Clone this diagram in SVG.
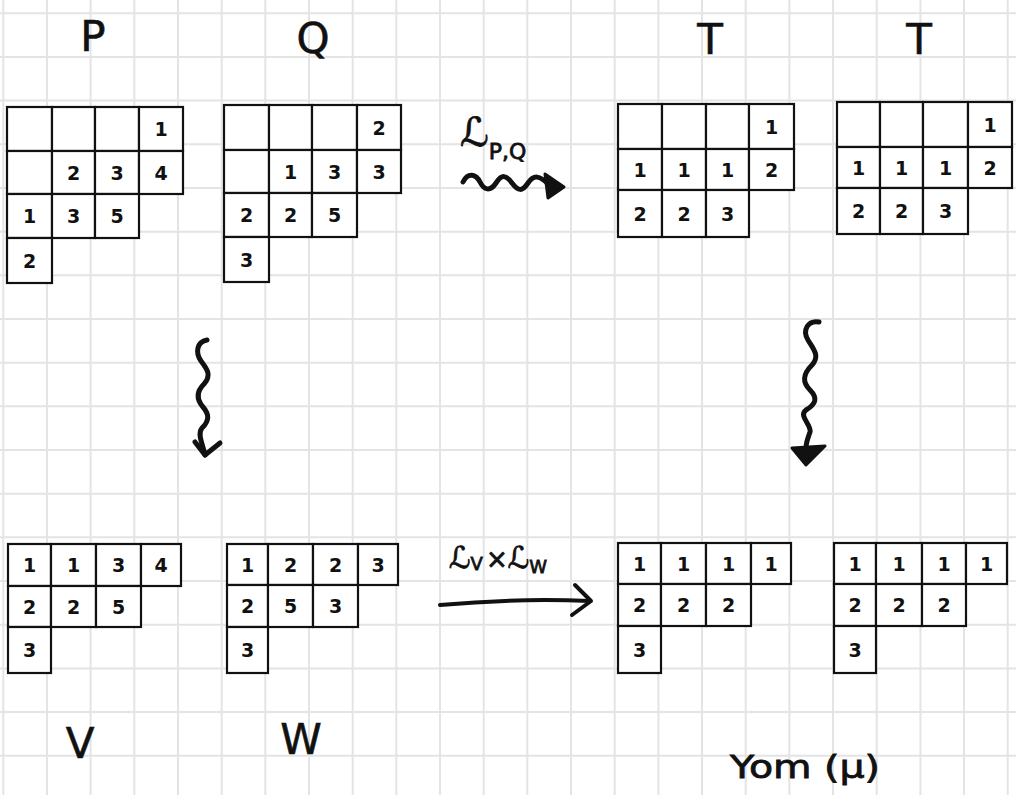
<svg xmlns="http://www.w3.org/2000/svg" width="1016" height="795" viewBox="0 0 1016 795">
<style>
.grid{stroke:#e4e4e4;stroke-width:2;fill:none}
.cell{fill:#fff;stroke:#111;stroke-width:2.2}
.num{font-family:"DejaVu Sans",sans-serif;font-size:19px;font-weight:bold;fill:#111;text-anchor:middle;dominant-baseline:central}
.big{font-family:"DejaVu Sans",sans-serif;font-size:42px;fill:#111;stroke:#111;stroke-width:0.6;text-anchor:middle}
.lbl{font-family:"DejaVu Sans",sans-serif;fill:#111;stroke:#111;stroke-width:0.8}
.wave{fill:none;stroke:#111;stroke-width:5;stroke-linecap:round;stroke-linejoin:round}
.line{fill:none;stroke:#111;stroke-width:4;stroke-linecap:round;stroke-linejoin:round}
</style>
<rect width="1016" height="795" fill="#fff"/>
<path class="grid" d="M3.3,0V795M47,0V795M90.6,0V795M134.3,0V795M178,0V795M221.7,0V795M265.3,0V795M309,0V795M352.7,0V795M396.3,0V795M440,0V795M483.7,0V795M527.3,0V795M571,0V795M614.7,0V795M658.4,0V795M702,0V795M745.7,0V795M789.4,0V795M833,0V795M876.7,0V795M920.4,0V795M964,0V795M1007.7,0V795M0,13.3H1016M0,57H1016M0,100.6H1016M0,144.3H1016M0,188H1016M0,231.7H1016M0,275.3H1016M0,319H1016M0,362.7H1016M0,406.3H1016M0,450H1016M0,493.7H1016M0,537.3H1016M0,581H1016M0,624.7H1016M0,668.4H1016M0,712H1016M0,755.7H1016"/>

<g id="P">
<rect class="cell" x="7" y="107" width="45" height="44"/><rect class="cell" x="52" y="107" width="43" height="44"/><rect class="cell" x="95" y="107" width="44" height="44"/><rect class="cell" x="139" y="107" width="44" height="44"/>
<rect class="cell" x="7" y="151" width="45" height="43"/><rect class="cell" x="52" y="151" width="43" height="43"/><rect class="cell" x="95" y="151" width="44" height="43"/><rect class="cell" x="139" y="151" width="44" height="43"/>
<rect class="cell" x="7" y="194" width="45" height="44"/><rect class="cell" x="52" y="194" width="43" height="44"/><rect class="cell" x="95" y="194" width="44" height="44"/>
<rect class="cell" x="7" y="238" width="45" height="45"/>
<text class="num" x="161" y="129">1</text>
<text class="num" x="73.5" y="172.5">2</text><text class="num" x="117" y="172.5">3</text><text class="num" x="161" y="172.5">4</text>
<text class="num" x="29.5" y="216">1</text><text class="num" x="73.5" y="216">3</text><text class="num" x="117" y="216">5</text>
<text class="num" x="29.5" y="260.5">2</text>
<text class="big" x="93" y="51">P</text>
</g>

<g id="Q">
<rect class="cell" x="224" y="105" width="45" height="45"/><rect class="cell" x="269" y="105" width="43" height="45"/><rect class="cell" x="312" y="105" width="45" height="45"/><rect class="cell" x="357" y="105" width="44" height="45"/>
<rect class="cell" x="224" y="150" width="45" height="43"/><rect class="cell" x="269" y="150" width="43" height="43"/><rect class="cell" x="312" y="150" width="45" height="43"/><rect class="cell" x="357" y="150" width="44" height="43"/>
<rect class="cell" x="224" y="193" width="45" height="44"/><rect class="cell" x="269" y="193" width="43" height="44"/><rect class="cell" x="312" y="193" width="45" height="44"/>
<rect class="cell" x="224" y="237" width="45" height="45"/>
<text class="num" x="379" y="127.5">2</text>
<text class="num" x="290.5" y="171.5">1</text><text class="num" x="334.5" y="171.5">3</text><text class="num" x="379" y="171.5">3</text>
<text class="num" x="246.5" y="215">2</text><text class="num" x="290.5" y="215">2</text><text class="num" x="334.5" y="215">5</text>
<text class="num" x="246.5" y="259.5">3</text>
<text class="big" x="313" y="53">Q</text>
</g>

<g id="T1">
<rect class="cell" x="618" y="104" width="44" height="45"/><rect class="cell" x="662" y="104" width="44" height="45"/><rect class="cell" x="706" y="104" width="43" height="45"/><rect class="cell" x="749" y="104" width="45" height="45"/>
<rect class="cell" x="618" y="149" width="44" height="41"/><rect class="cell" x="662" y="149" width="44" height="41"/><rect class="cell" x="706" y="149" width="43" height="41"/><rect class="cell" x="749" y="149" width="45" height="41"/>
<rect class="cell" x="618" y="190" width="44" height="47"/><rect class="cell" x="662" y="190" width="44" height="47"/><rect class="cell" x="706" y="190" width="43" height="47"/>
<text class="num" x="771.5" y="126.5">1</text>
<text class="num" x="640" y="169.5">1</text><text class="num" x="684" y="169.5">1</text><text class="num" x="727.5" y="169.5">1</text><text class="num" x="771.5" y="169.5">2</text>
<text class="num" x="640" y="213.5">2</text><text class="num" x="684" y="213.5">2</text><text class="num" x="727.5" y="213.5">3</text>
<text class="big" x="710" y="54">T</text>
</g>

<g id="T2">
<rect class="cell" x="837" y="102" width="43" height="45"/><rect class="cell" x="880" y="102" width="43" height="45"/><rect class="cell" x="923" y="102" width="45" height="45"/><rect class="cell" x="968" y="102" width="44" height="45"/>
<rect class="cell" x="837" y="147" width="43" height="41"/><rect class="cell" x="880" y="147" width="43" height="41"/><rect class="cell" x="923" y="147" width="45" height="41"/><rect class="cell" x="968" y="147" width="44" height="41"/>
<rect class="cell" x="837" y="188" width="43" height="46"/><rect class="cell" x="880" y="188" width="43" height="46"/><rect class="cell" x="923" y="188" width="45" height="46"/>
<text class="num" x="990" y="124.5">1</text>
<text class="num" x="858.5" y="167.5">1</text><text class="num" x="901.5" y="167.5">1</text><text class="num" x="945.5" y="167.5">1</text><text class="num" x="990" y="167.5">2</text>
<text class="num" x="858.5" y="211">2</text><text class="num" x="901.5" y="211">2</text><text class="num" x="945.5" y="211">3</text>
<text class="big" x="919" y="54">T</text>
</g>

<g id="V">
<rect class="cell" x="8" y="544" width="43" height="42"/><rect class="cell" x="51" y="544" width="45" height="42"/><rect class="cell" x="96" y="544" width="45" height="42"/><rect class="cell" x="141" y="544" width="40" height="42"/>
<rect class="cell" x="8" y="586" width="43" height="41"/><rect class="cell" x="51" y="586" width="45" height="41"/><rect class="cell" x="96" y="586" width="45" height="41"/>
<rect class="cell" x="8" y="627" width="43" height="46"/>
<text class="num" x="29.5" y="565">1</text><text class="num" x="73.5" y="565">1</text><text class="num" x="118.5" y="565">3</text><text class="num" x="161" y="565">4</text>
<text class="num" x="29.5" y="606.5">2</text><text class="num" x="73.5" y="606.5">2</text><text class="num" x="118.5" y="606.5">5</text>
<text class="num" x="29.5" y="650">3</text>
<text class="big" x="80" y="758">V</text>
</g>

<g id="W">
<rect class="cell" x="227" y="544" width="41" height="41"/><rect class="cell" x="268" y="544" width="45" height="41"/><rect class="cell" x="313" y="544" width="45" height="41"/><rect class="cell" x="358" y="544" width="40" height="41"/>
<rect class="cell" x="227" y="585" width="41" height="42"/><rect class="cell" x="268" y="585" width="45" height="42"/><rect class="cell" x="313" y="585" width="45" height="42"/>
<rect class="cell" x="227" y="627" width="41" height="46"/>
<text class="num" x="247.5" y="564.5">1</text><text class="num" x="290.5" y="564.5">2</text><text class="num" x="335.5" y="564.5">2</text><text class="num" x="378" y="564.5">3</text>
<text class="num" x="247.5" y="606">2</text><text class="num" x="290.5" y="606">5</text><text class="num" x="335.5" y="606">3</text>
<text class="num" x="247.5" y="650">3</text>
<text class="big" x="301" y="754">W</text>
</g>

<g id="Y1">
<rect class="cell" x="618" y="543" width="43" height="41"/><rect class="cell" x="661" y="543" width="45" height="41"/><rect class="cell" x="706" y="543" width="45" height="41"/><rect class="cell" x="751" y="543" width="40" height="41"/>
<rect class="cell" x="618" y="584" width="43" height="42"/><rect class="cell" x="661" y="584" width="45" height="42"/><rect class="cell" x="706" y="584" width="45" height="42"/>
<rect class="cell" x="618" y="626" width="43" height="47"/>
<text class="num" x="639.5" y="563.5">1</text><text class="num" x="683.5" y="563.5">1</text><text class="num" x="728.5" y="563.5">1</text><text class="num" x="771" y="563.5">1</text>
<text class="num" x="639.5" y="605">2</text><text class="num" x="683.5" y="605">2</text><text class="num" x="728.5" y="605">2</text>
<text class="num" x="639.5" y="649.5">3</text>
</g>

<g id="Y2">
<rect class="cell" x="834" y="543" width="42" height="41"/><rect class="cell" x="876" y="543" width="46" height="41"/><rect class="cell" x="922" y="543" width="44" height="41"/><rect class="cell" x="966" y="543" width="41" height="41"/>
<rect class="cell" x="834" y="584" width="42" height="42"/><rect class="cell" x="876" y="584" width="46" height="42"/><rect class="cell" x="922" y="584" width="44" height="42"/>
<rect class="cell" x="834" y="626" width="42" height="47"/>
<text class="num" x="855" y="563.5">1</text><text class="num" x="899" y="563.5">1</text><text class="num" x="944" y="563.5">1</text><text class="num" x="986.5" y="563.5">1</text>
<text class="num" x="855" y="605">2</text><text class="num" x="899" y="605">2</text><text class="num" x="944" y="605">2</text>
<text class="num" x="855" y="649.5">3</text>
<text class="lbl" x="730" y="778" font-size="32" stroke-width="0.4" textLength="150" lengthAdjust="spacingAndGlyphs">Yom (μ)</text>
</g>

<g id="connectors">
<path class="wave" d="M463,182 C468,172 476,174 480,182 S490,192 496,183 S506,175 512,183 S522,192 528,183 S540,176 548,184"/>
<polygon points="545,174 564,187 548,198" fill="#111" stroke="#111" stroke-width="3" stroke-linejoin="round"/>
<path class="wave" d="M207,340 C197,342 195,352 201,361 C207,369 212,375 204,384 C196,392 197,400 203,407 C209,414 210,420 202,428 C197,434 203,445 205,455"/>
<path class="wave" d="M195,442 L205,455 L220,443"/>
<path class="wave" d="M819,322 C808,320 802,330 808,340 C814,350 820,356 812,365 C803,374 802,382 810,390 C818,398 816,404 806,410 C798,416 812,425 810,432 C808,438 806,442 806,448"/>
<polygon points="792,448 825,446 806,465" fill="#111" stroke="#111" stroke-width="3" stroke-linejoin="round"/>
<path class="line" d="M440,605 Q515,598 590,601"/>
<path class="line" d="M575,585 L591,601 L572,615"/>
</g>

<g id="arrow-labels">
<text class="lbl" x="460" y="146"><tspan font-size="40">ℒ</tspan><tspan font-size="22" dy="13">P,Q</tspan></text>
<text class="lbl" x="449" y="568"><tspan font-size="30">ℒ</tspan><tspan font-size="18" dy="2">V</tspan><tspan font-size="26" dy="-2" dx="3">×</tspan><tspan font-size="30">ℒ</tspan><tspan font-size="18" dy="5">W</tspan></text>
</g>
</svg>
